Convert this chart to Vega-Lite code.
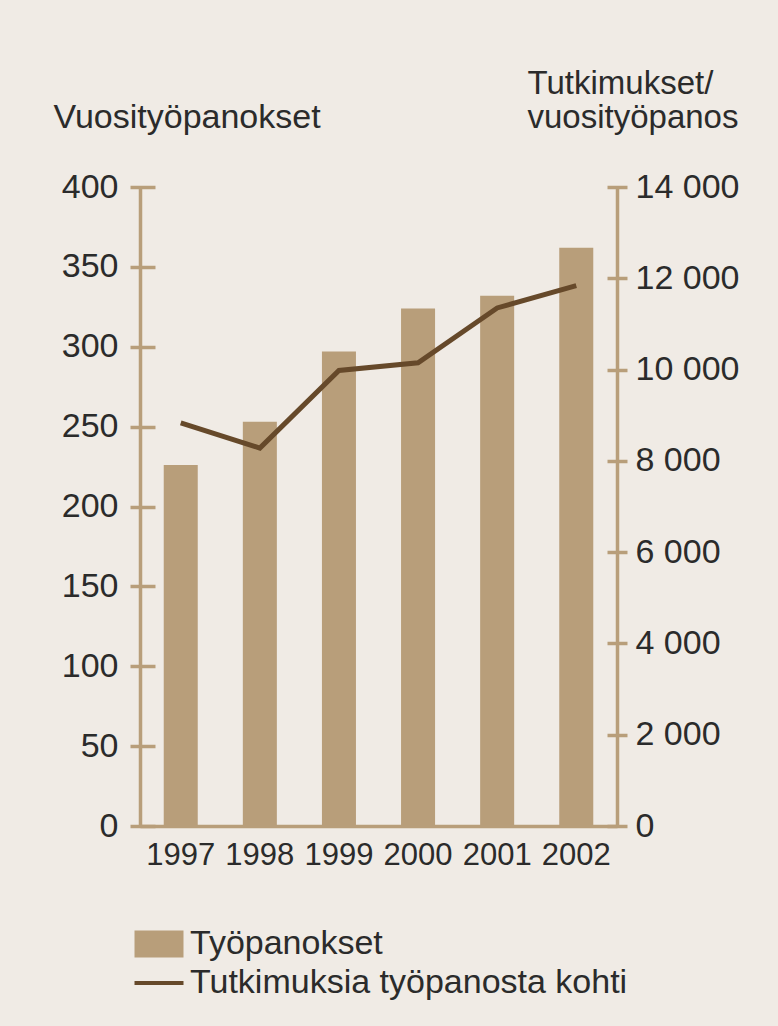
{
  "$schema": "https://vega.github.io/schema/vega-lite/v6.json",
  "autosize": "none",
  "width": 477,
  "height": 639,
  "padding": {"left": 140, "top": 187, "right": 161, "bottom": 200},
  "background": "#f0ebe5",
  "config": {
    "view": {"stroke": null},
    "font": "Liberation Sans",
    "axis": {
      "domainColor": "#b89e7a",
      "tickColor": "#b89e7a",
      "domainWidth": 3.5,
      "tickWidth": 3.5,
      "grid": false,
      "labelFont": "Liberation Sans",
      "labelFontSize": 34,
      "labelColor": "#2b2b2b",
      "titleFont": "Liberation Sans",
      "titleFontSize": 34,
      "titleFontWeight": "normal",
      "titleColor": "#2b2b2b"
    }
  },
  "data": {
    "values": [
      {"vuosi": "1997", "tyopanokset": 226, "tutkimuksia": 8830},
      {"vuosi": "1998", "tyopanokset": 253, "tutkimuksia": 8280},
      {"vuosi": "1999", "tyopanokset": 297, "tutkimuksia": 9980},
      {"vuosi": "2000", "tyopanokset": 324, "tutkimuksia": 10150},
      {"vuosi": "2001", "tyopanokset": 332, "tutkimuksia": 11350},
      {"vuosi": "2002", "tyopanokset": 362, "tutkimuksia": 11840}
    ]
  },
  "encoding": {
    "x": {
      "field": "vuosi",
      "type": "ordinal",
      "scale": {"paddingInner": 0.57, "paddingOuter": 0.3},
      "axis": {
        "title": null,
        "labelAngle": 0,
        "labelFontSize": 31,
        "ticks": false,
        "tickSize": 0,
        "labelPadding": 14,
        "labelDx": -10,
        "domain": true
      }
    }
  },
  "layer": [
    {
      "mark": {"type": "bar"},
      "encoding": {
        "y": {
          "field": "tyopanokset",
          "type": "quantitative",
          "scale": {"domain": [0, 400], "nice": false},
          "axis": {
            "orient": "left",
            "offset": -15,
            "domain": false,
            "tickSize": 25,
            "values": [0, 50, 100, 150, 200, 250, 300, 350, 400],
            "labelPadding": 12,
            "labelBaseline": "middle",
            "title": "Vuosityöpanokset",
            "titleAngle": 0,
            "titleAlign": "left",
            "titleBaseline": "alphabetic",
            "titleX": -102,
            "titleY": -60
          }
        },
        "color": {
          "datum": "Työpanokset",
          "type": "nominal",
          "scale": {
            "domain": ["Työpanokset", "Tutkimuksia työpanosta kohti"],
            "range": ["#b89e7a", "#66492a"]
          },
          "legend": {
            "orient": "none",
            "legendX": 2,
            "legendY": 740,
            "title": null,
            "labelFont": "Liberation Sans",
            "labelFontSize": 34,
            "labelColor": "#2b2b2b",
            "labelLimit": 0,
            "symbolSize": 600,
            "labelOffset": 14,
            "rowPadding": 5,
            "padding": 0,
            "encode": {
              "symbols": {
                "update": {
                  "shape": {"signal": "datum.value === 'Työpanokset' ? 'M-2,-1.1H2V1.1H-2Z' : 'M-2,-0.16H2V0.16H-2Z'"},
                  "fill": {"scale": "color", "field": "value"},
                  "stroke": {"value": "transparent"},
                  "strokeWidth": {"value": 0},
                  "opacity": {"value": 1}
                }
              }
            }
          }
        }
      }
    },
    {
      "mark": {"type": "bar", "opacity": 0},
      "encoding": {
        "y": {
          "field": "tyopanokset",
          "type": "quantitative",
          "scale": {"domain": [0, 400], "nice": false},
          "axis": {
            "orient": "left",
            "domain": true,
            "ticks": false,
            "labels": false,
            "title": null
          }
        }
      }
    },
    {
      "mark": {"type": "line", "strokeWidth": 5},
      "encoding": {
        "y": {
          "field": "tutkimuksia",
          "type": "quantitative",
          "scale": {"domain": [0, 14000], "nice": false},
          "axis": {
            "orient": "right",
            "offset": -10,
            "domain": false,
            "tickSize": 20,
            "values": [0, 2000, 4000, 6000, 8000, 10000, 12000, 14000],
            "labelExpr": "replace(format(datum.value, ','), ',', ' ')",
            "labelPadding": 8,
            "labelBaseline": "middle",
            "title": ["Tutkimukset/", "vuosityöpanos"],
            "titleAngle": 0,
            "titleAlign": "left",
            "titleBaseline": "alphabetic",
            "titleFontSize": 33,
            "titleLineHeight": 34,
            "titleX": -80,
            "titleY": -94
          }
        },
        "color": {"datum": "Tutkimuksia työpanosta kohti", "type": "nominal"}
      }
    },
    {
      "mark": {"type": "point", "opacity": 0},
      "encoding": {
        "y": {
          "field": "tutkimuksia",
          "type": "quantitative",
          "scale": {"domain": [0, 14000], "nice": false},
          "axis": {
            "orient": "right",
            "domain": true,
            "ticks": false,
            "labels": false,
            "title": null
          }
        }
      }
    }
  ],
  "resolve": {"scale": {"y": "independent"}}
}
